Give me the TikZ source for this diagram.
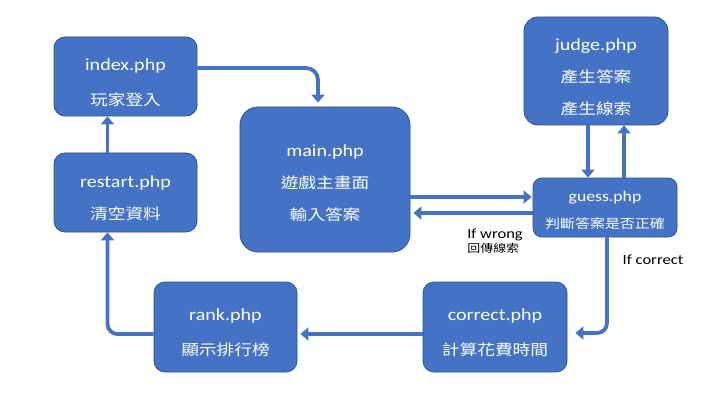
\documentclass[tikz,border=0pt]{standalone}
\usepackage{fontspec}
\setmainfont{Carlito}[FakeStretch=1.18]
\newfontfamily\cjk{Noto Sans CJK TC}[FakeStretch=1.18]
\usetikzlibrary{arrows.meta}
\definecolor{boxblue}{HTML}{4472C4}
\definecolor{boxedge}{HTML}{2F528F}
\newcommand{\zh}[1]{{\cjk\fontsize{15}{32}\selectfont #1}}
\newcommand{\zhsmall}[1]{{\cjk\fontsize{11}{14}\selectfont #1}}
\newcommand{\zhguess}[1]{{\cjk\fontsize{12.7}{26}\selectfont #1}}
\newcommand{\lift}[1]{\rule{0pt}{#1}}
\tikzset{
  pagebox/.style={rounded corners=11pt, fill=boxblue, draw=boxedge, line width=0.8pt,
    text=white, align=center, inner sep=0pt, font=\fontsize{17}{34}\selectfont},
  flow/.style={draw=boxblue, line width=3.8pt, -{Triangle[width=13pt,length=8pt]}},
  note/.style={align=left, inner sep=0pt, font=\fontsize{14}{14}\selectfont}
}
\begin{document}
\begin{tikzpicture}[x=1pt,y=1pt]
                        \useasboundingbox[fill=white] (0,0) rectangle (720,405);
                        % Left column
                        \node[pagebox, minimum width=143pt, minimum height=79pt, font=\fontsize{17}{35}\selectfont] (index) at (125.5,328.5) {\lift{24pt}index.php\\\zh{玩家登入}};
                        \node[pagebox, minimum width=143pt, minimum height=79pt, font=\fontsize{17}{32}\selectfont] (restart) at (125.5,212.5) {\lift{23pt}restart.php\\\zh{清空資料}};
                        % Middle
                        \node[pagebox, rounded corners=18pt, minimum width=170pt, minimum height=145pt, font=\fontsize{17}{32}\selectfont] (main) at (325,225.5) {\lift{19pt}main.php\\\zh{遊戲主畫面}\\\zh{輸入答案}};
                        % Right column
                        \node[pagebox, rounded corners=14pt, minimum width=144pt, minimum height=108pt, font=\fontsize{17}{32}\selectfont] (judge) at (596,334) {\lift{25pt}judge.php\\\zh{產生答案}\\\zh{產生線索}};
                        \node[pagebox, rounded corners=9pt, minimum width=144pt, minimum height=59pt, font=\fontsize{15}{27}\selectfont] (guess) at (605,197.5) {\lift{16.5pt}guess.php\\\zhguess{判斷答案是否正確}};
                        % Bottom row
                        \node[pagebox, minimum width=144pt, minimum height=90pt, font=\fontsize{17}{35}\selectfont] (correct) at (495,78) {\lift{23pt}correct.php\\\zh{計算花費時間}};
                        \node[pagebox, minimum width=143pt, minimum height=90pt, font=\fontsize{17}{35}\selectfont] (rank) at (225.5,78) {\lift{23pt}rank.php\\\zh{顯示排行榜}};
                        % Labels
                        \node[note] (wronglbl) at (495,163.5) {If wrong\\\zhsmall{回傳線索}};
                        \node[note] (correctlbl) at (653,145) {If correct};
                        % Arrows
                        \draw[flow, rounded corners=12pt, shorten >=4pt] ([yshift=8.5pt]index.east) -| ([xshift=-7pt]main.north);
                        \draw[flow] ([xshift=-18pt]restart.north) -- ([xshift=-18pt]index.south);
                        \draw[flow, shorten >=1pt] ([yshift=-17.5pt]main.east) -- ([yshift=-17.5pt]main.east -| guess.west);
                        \draw[flow, shorten >=3pt] ([yshift=-5.5pt]guess.west) -- ([yshift=-5.5pt]guess.west -| main.east);
                        \draw[flow] ([xshift=-8pt]judge.south) -- ([xshift=-8pt]judge.south |- guess.north);
                        \draw[flow] ([xshift=19pt]guess.north) -- ([xshift=19pt]guess.north |- judge.south);
                        \draw[flow, rounded corners=10pt] ([xshift=2pt]guess.south) |- ([shift={(8pt,-6pt)}]correct.east);
                        \draw[flow, shorten >=3pt] ([yshift=-7pt]correct.west) -- ([yshift=-7pt]rank.east);
                        \draw[flow, rounded corners=10pt] ([yshift=-7pt]rank.west) -| ([xshift=-18pt]restart.south);
        \end{tikzpicture}
\end{document}
